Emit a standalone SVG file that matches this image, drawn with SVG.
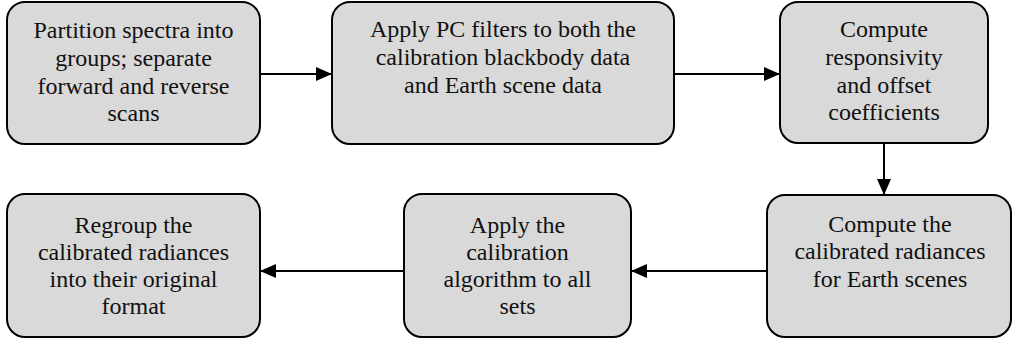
<svg xmlns="http://www.w3.org/2000/svg" width="1013" height="341" viewBox="0 0 1013 341">
<style>
.box{fill:#d9d9d9;stroke:#000;stroke-width:2}
.t{font-family:'Liberation Serif','Times New Roman',serif;font-size:24px;fill:#111;text-anchor:middle}
.c{stroke:#000;stroke-width:2;fill:none}
</style>
<defs>
<marker id="ah" markerWidth="16" markerHeight="14" refX="15" refY="7" orient="auto" markerUnits="userSpaceOnUse">
<path d="M0,0 L16,7 L0,14 Z" fill="#000"/>
</marker>
</defs>
<g id="n1"><rect class="box" x="7" y="2" width="253" height="142" rx="18"/>
<text class="t"><tspan x="133.5" y="38">Partition spectra into</tspan><tspan x="133.5" y="66">groups; separate</tspan><tspan x="133.5" y="94">forward and reverse</tspan><tspan x="133.5" y="121">scans</tspan></text></g>
<g id="n2"><rect class="box" x="332" y="2" width="342" height="142" rx="18"/>
<text class="t"><tspan x="503" y="37">Apply PC filters to both the</tspan><tspan x="503" y="65">calibration blackbody data</tspan><tspan x="503" y="93">and Earth scene data</tspan></text></g>
<g id="n3"><rect class="box" x="780" y="2" width="208" height="141" rx="18"/>
<text class="t"><tspan x="884" y="37">Compute</tspan><tspan x="884" y="65">responsivity</tspan><tspan x="884" y="93">and offset</tspan><tspan x="884" y="120">coefficients</tspan></text></g>
<g id="n4"><rect class="box" x="7" y="194" width="253" height="143" rx="18"/>
<text class="t"><tspan x="133.5" y="233">Regroup the</tspan><tspan x="133.5" y="260">calibrated radiances</tspan><tspan x="133.5" y="287">into their original</tspan><tspan x="133.5" y="314">format</tspan></text></g>
<g id="n5"><rect class="box" x="404" y="194" width="227" height="143" rx="18"/>
<text class="t"><tspan x="517.5" y="233">Apply the</tspan><tspan x="517.5" y="260">calibration</tspan><tspan x="517.5" y="287">algorithm to all</tspan><tspan x="517.5" y="314">sets</tspan></text></g>
<g id="n6"><rect class="box" x="767" y="195" width="244" height="142" rx="18"/>
<text class="t"><tspan x="890" y="232">Compute the</tspan><tspan x="890" y="259">calibrated radiances</tspan><tspan x="890" y="287">for Earth scenes</tspan></text></g>
<g id="connectors">
<line class="c" x1="260" y1="74" x2="331" y2="74" marker-end="url(#ah)"/>
<line class="c" x1="674" y1="74" x2="779" y2="74" marker-end="url(#ah)"/>
<line class="c" x1="884" y1="143" x2="884" y2="194" marker-end="url(#ah)"/>
<line class="c" x1="767" y1="271" x2="632" y2="271" marker-end="url(#ah)"/>
<line class="c" x1="404" y1="271" x2="261" y2="271" marker-end="url(#ah)"/>
</g>
</svg>
